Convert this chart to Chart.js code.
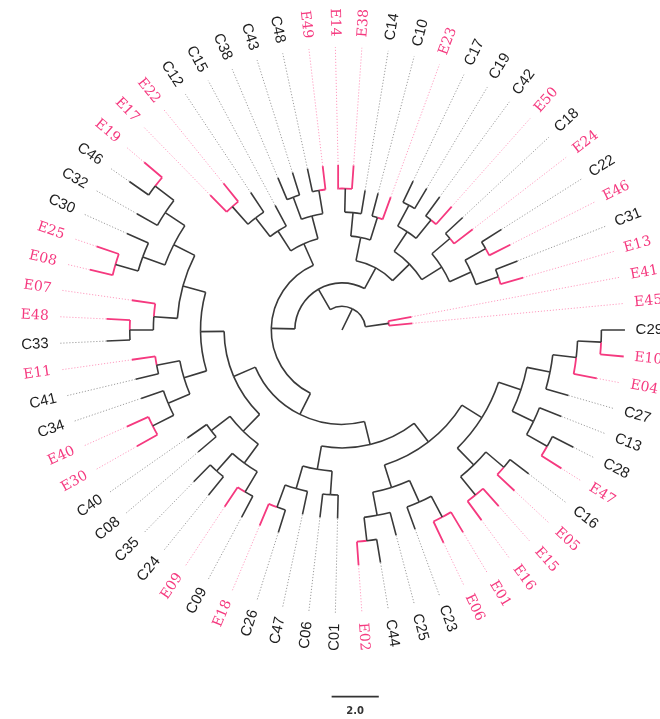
<!DOCTYPE html>
<html>
<head>
<meta charset="utf-8">
<script src="https://cdn.jsdelivr.net/npm/chart.js@4.4.1/dist/chart.umd.min.js"></script>
<style>
    html, body { margin: 0; padding: 0; background: #fff; }
    canvas { display: block; }
</style>
</head>
<body>
<canvas id="myChart" width="660" height="719"></canvas>
<script>
// leaf labels, clockwise starting at 3 o'clock
const leaves = ['C29', 'E10', 'E04', 'C27', 'C13', 'C28', 'E47', 'C16', 'E05', 'E15',
    'E16', 'E01', 'E06', 'C23', 'C25', 'C44', 'E02', 'C01', 'C06', 'C47',
    'C26', 'E18', 'C09', 'E09', 'C24', 'C35', 'C08', 'C40', 'E30', 'E40',
    'C34', 'C41', 'E11', 'C33', 'E48', 'E07', 'E08', 'E25', 'C30', 'C32',
    'C46', 'E19', 'E17', 'E22', 'C12', 'C15', 'C38', 'C43', 'C48', 'E49',
    'E14', 'E38', 'C14', 'C10', 'E23', 'C17', 'C19', 'C42', 'E50', 'C18',
    'E24', 'C22', 'E46', 'C31', 'E13', 'E41', 'E45'];

// clades (newick, every branch has length 1.0)
const cladeTop = '((((E17,E22),C12),C15),((C38,C43),(C48,E49)))';
const cladeLeft = '((((((E25,E08),C30),(C32,(C46,E19))),(E07,(E48,C33))),((E11,C41),((E40,E30),C34))),((C40,C08),((C35,C24),(E09,C09))))';
const cladeBottom = '(((C47,(C26,E18)),(C06,C01)),((((E02,C44),C25),((E01,E06),C23)),(((((C29,E10),E04),C27),(C13,(C28,E47))),((E15,E16),(C16,E05)))))';
const cladeRight = '((((E14,E38),C14),(C10,E23)),(((C17,C19),(C42,E50)),((C18,E24),((C22,E46),(C31,E13)))))';
const cladeOut = '(E41,E45)';
const tree = `(${cladeOut},((${cladeTop},(${cladeLeft},${cladeBottom})),${cladeRight}))`;

const tipDepth = 12;
const scaleBarLength = 2.0;

const PINK = '#f5397f';
const PINK_DOT = '#ff9dc0';
const BLACK = '#3a3a3a';
const GREY_DOT = '#9c9c9c';

function parseNewick(s) {
    let i = 0;
    function node() {
        if (s[i] === '(') {
            i++;
            const kids = [node()];
            while (s[i] === ',') { i++; kids.push(node()); }
            i++;
            return { children: kids };
        }
        let name = '';
        while (i < s.length && !',()'.includes(s[i])) name += s[i++];
        return { name: name.trim() };
    }
    return node();
}

const step = 360 / leaves.length;

function layout(n, depth) {
    n.depth = depth;
    if (n.name) {
        n.angle = leaves.indexOf(n.name) * step;
        return;
    }
    n.children.forEach(c => layout(c, depth + 1));
    const a = n.children.map(c => c.angle);
    n.angle = (Math.min(...a) + Math.max(...a)) / 2;
}

function pol(r, a) {
    const t = a * Math.PI / 180;
    return { x: r * Math.cos(t), y: -r * Math.sin(t) };
}

const GAP = { x: NaN, y: NaN };
const blackSeg = [], pinkSeg = [], greyDot = [], pinkDot = [];
const arcs = [], labels = [];

function walk(n, parent) {
    const pink = !!n.name && n.name[0] === 'E';
    if (parent) {
        (pink ? pinkSeg : blackSeg).push(pol(parent.depth, n.angle), pol(n.depth, n.angle), GAP);
        arcs.push({ r: parent.depth, a0: parent.angle, a1: n.angle, pink: pink });
    }
    if (n.name) {
        (pink ? pinkDot : greyDot).push(pol(n.depth, n.angle), pol(tipDepth, n.angle), GAP);
        labels.push({ name: n.name, angle: n.angle, pink: pink });
        return;
    }
    n.children.forEach(c => walk(c, n));
}

const root = parseNewick(tree);
layout(root, 1);
walk(root, null);
// root stub from the centre
blackSeg.push(pol(0, root.angle), pol(root.depth, root.angle), GAP);

const unit = 23.58;
const cx = 342, cy = 330;
const W = 660, H = 719;
const barY = -(696.7 - cy) / unit;
const barX = -0.44;

const treePlugin = {
    id: 'treeExtras',
    beforeDatasetsDraw(chart) {
        const ctx = chart.ctx;
        const xs = chart.scales.x, ys = chart.scales.y;
        const ox = xs.getPixelForValue(0), oy = ys.getPixelForValue(0);
        ctx.save();
        ctx.lineCap = 'butt';
        arcs.forEach(a => {
            if (a.a0 === a.a1) return;
            const rad = xs.getPixelForValue(a.r) - ox;
            const s = Math.min(a.a0, a.a1) * Math.PI / 180;
            const e = Math.max(a.a0, a.a1) * Math.PI / 180;
            ctx.beginPath();
            ctx.strokeStyle = a.pink ? PINK : BLACK;
            ctx.lineWidth = a.pink ? 1.8 : 1.6;
            ctx.arc(ox, oy, rad, s, e, false);
            ctx.stroke();
        });
        ctx.restore();
    },
    afterDatasetsDraw(chart) {
        const ctx = chart.ctx;
        const xs = chart.scales.x, ys = chart.scales.y;
        ctx.save();
        ctx.textBaseline = 'middle';
        labels.forEach(l => {
            const p = pol(12.45, l.angle);
            const px = xs.getPixelForValue(p.x), py = ys.getPixelForValue(p.y);
            const flip = l.angle > 90 && l.angle < 270;
            ctx.save();
            ctx.translate(px, py);
            ctx.rotate((flip ? l.angle + 180 : l.angle) * Math.PI / 180);
            ctx.textAlign = flip ? 'right' : 'left';
            ctx.fillStyle = l.pink ? PINK : '#1e1e1e';
            ctx.font = l.pink ? '14px "DejaVu Serif"' : '15px "Liberation Sans"';
            ctx.fillText(l.name, 0, 0);
            ctx.restore();
        });
        // scale bar caption
        ctx.fillStyle = '#333';
        ctx.font = 'bold 10px "DejaVu Sans"';
        ctx.textAlign = 'center';
        ctx.fillText(scaleBarLength.toFixed(1),
            xs.getPixelForValue(barX + scaleBarLength / 2), ys.getPixelForValue(barY) + 15);
        ctx.restore();
    }
};

function lineSet(data, color, width, dash) {
    return {
        data: data,
        showLine: true,
        borderColor: color,
        borderWidth: width,
        borderDash: dash || [],
        pointRadius: 0,
        spanGaps: false,
        borderCapStyle: 'butt'
    };
}

const ctx = document.getElementById('myChart').getContext('2d');
const chart = new Chart(ctx, {
    type: 'scatter',
    data: {
        datasets: [
            lineSet(greyDot, GREY_DOT, 1, [1.2, 1.8]),
            lineSet(pinkDot, PINK_DOT, 1, [1.2, 1.8]),
            lineSet(blackSeg, BLACK, 1.6),
            lineSet(pinkSeg, PINK, 1.8),
            lineSet([{ x: barX, y: barY }, { x: barX + scaleBarLength, y: barY }], '#333', 1.8)
        ]
    },
    options: {
        responsive: false,
        animation: false,
        events: [],
        layout: { padding: 0 },
        plugins: { legend: { display: false }, tooltip: { enabled: false } },
        scales: {
            x: { type: 'linear', min: -cx / unit, max: (W - cx) / unit, display: false },
            y: { type: 'linear', min: -(H - cy) / unit, max: cy / unit, display: false }
        }
    },
    plugins: [treePlugin]
});
</script>
</body>
</html>
